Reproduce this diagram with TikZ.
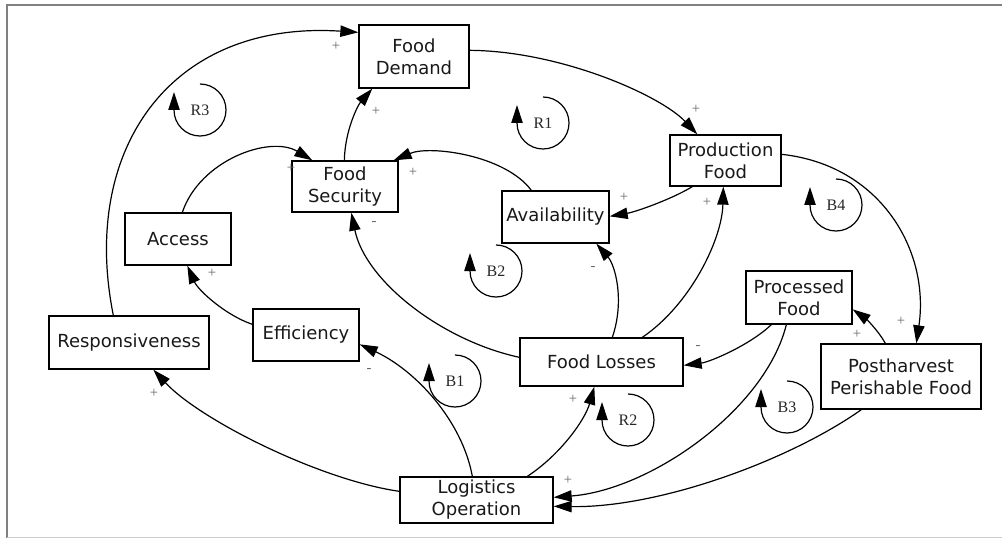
\documentclass[tikz,border=0pt]{standalone}
\usepackage{fontspec}
\newfontfamily\boxfont{DejaVu Sans}
\newfontfamily\labfont{Liberation Serif}
\usetikzlibrary{arrows.meta,calc}
\begin{document}
\begin{tikzpicture}[x=0.75pt,y=-0.75pt,
 var/.style={draw=black,line width=1pt,fill=white,font=\boxfont\fontsize{13.5}{16.5}\selectfont,align=center,inner sep=0pt,text=black!90},
 link/.style={line width=0.9pt,-{Triangle[length=13.5pt,width=8.5pt]}},
 sign/.style={font=\labfont\fontsize{11}{11}\selectfont,text=black!60,inner sep=0pt},
 loopname/.style={font=\labfont\fontsize{12}{12}\selectfont,inner sep=0pt,text=black!85},
 loopline/.style={line width=0.9pt,-{Triangle[length=13.5pt,width=8.5pt]}},
 frame/.style={draw=black!50,line width=1.5pt}]
\useasboundingbox (0,0) rectangle (1002,538);
\draw[frame] (6.5,538) -- (6.5,5.5) -- (1002,5.5);
\draw[draw=black!20,line width=1pt] (6.5,537.5) -- (1002,537.5);

% variables
\node[var,minimum width=82.5pt,minimum height=47.25pt] (fd) at (414,56.5) {Food\\Demand};
\node[var,minimum width=79.5pt,minimum height=38.25pt] (fs) at (345,186.5) {Food\\Security};
\node[var,minimum width=79.5pt,minimum height=39pt] (ac) at (178,239) {Access};
\node[var,minimum width=80.25pt,minimum height=39pt] (av) at (555.5,217) {Availability};
\node[var,minimum width=83.25pt,minimum height=38.25pt] (pf) at (725.5,160.5) {Production\\Food};
\node[var,minimum width=120pt,minimum height=39.75pt] (re) at (129,342.5) {Responsiveness};
\node[var,minimum width=79.5pt,minimum height=39pt] (ef) at (306,335) {Efficiency};
\node[var,minimum width=122.25pt,minimum height=36pt] (fl) at (601.5,362) {Food Losses};
\node[var,minimum width=114.75pt,minimum height=34.5pt] (lo) at (476.5,500) {Logistics\\Operation};
\node[var,minimum width=79.5pt,minimum height=39.75pt] (pr) at (799,297.5) {Processed\\Food};
\node[var,minimum width=120pt,minimum height=48.75pt] (ph) at (901,376.5) {Postharvest\\Perishable Food};

% connectors
\draw[link] ($(re.north west)+(65,0)$) .. controls (80,150) and (170,20) .. ($(fd.north west)+(0,8)$);
\draw[link] ($(fd.north east)+(0,26)$) .. controls (560,51) and (660,95) .. ($(pf.north west)+(28,0)$);
\draw[link] ($(fs.north west)+(53,0)$) .. controls (345,130) and (358,105) .. ($(fd.south west)+(14,0)$);
\draw[link] ($(ac.north west)+(58,0)$) .. controls (200,160) and (270,135) .. ($(fs.north west)+(21,0)$);
\draw[link] ($(av.north west)+(30,0)$) .. controls (505,155) and (430,145) .. ($(fs.north east)+(-5,0)$);
\draw[link] ($(pf.south west)+(23,0)$) .. controls (670,200) and (635,212) .. ($(av.north east)+(0,26)$);
\draw[link] ($(fl.north west)+(0,20)$) .. controls (440,340) and (365,280) .. ($(fs.south west)+(60,0)$);
\draw[link] ($(fl.north west)+(93,0)$) .. controls (625,300) and (615,265) .. ($(av.south west)+(95,0)$);
\draw[link] ($(fl.north west)+(123,0)$) .. controls (690,305) and (722,240) .. ($(pf.south west)+(54,0)$);
\draw[link] ($(pf.north east)+(0,20)$) .. controls (880,165) and (930,250) .. ($(ph.north west)+(96,0)$);
\draw[link] ($(ph.north west)+(65,0)$) .. controls (878,330) and (865,318) .. ($(pr.north east)+(0,39)$);
\draw[link] ($(pr.south west)+(26,0)$) .. controls (750,345) and (710,362) .. ($(fl.north east)+(0,28)$);
\draw[link] ($(pr.south west)+(41,0)$) .. controls (765,410) and (650,490) .. ($(lo.north east)+(0,21)$);
\draw[link] ($(ph.south west)+(41,0)$) .. controls (790,460) and (660,508) .. ($(lo.north east)+(0,30)$);
\draw[link] ($(lo.north west)+(128,0)$) .. controls (560,455) and (585,420) .. ($(fl.south west)+(75,0)$);
\draw[link] ($(lo.north west)+(73,0)$) .. controls (462,420) and (415,370) .. ($(ef.north east)+(0,36)$);
\draw[link] ($(lo.north west)+(0,15)$) .. controls (320,480) and (200,420) .. ($(re.south west)+(105,0)$);
\draw[link] ($(ef.north west)+(0,16)$) .. controls (225,315) and (198,290) .. ($(ac.south west)+(63,0)$);

% polarity signs
\node[sign] (s1) at (336,46) {+};
\node[sign] (s2) at (696,109) {+};
\node[sign] (s3) at (376,111) {+};
\node[sign] (s4) at (291,168) {+};
\node[sign] (s5) at (413,172) {+};
\node[sign] (s6) at (624,197) {+};
\node[sign] (s7) at (374,223) {-};
\node[sign] (s8) at (593,268) {-};
\node[sign] (s9) at (707,202) {+};
\node[sign] (s10) at (901,321) {+};
\node[sign] (s11) at (857,334) {+};
\node[sign] (s12) at (698,347) {-};
\node[sign] (s13) at (568,480) {+};
\node[sign] (s14) at (573,399) {+};
\node[sign] (s15) at (369,370) {-};
\node[sign] (s16) at (154,393) {+};
\node[sign] (s17) at (212,273) {+};

% loops
\foreach \nm/\lab/\cx/\cy in {r3/R3/200/110, r1/R1/543/123, b4/B4/836/205, b2/B2/496/271, b1/B1/455/381, r2/R2/628/420, b3/B3/787/407}{
  \node[loopname] (\nm) at (\cx,\cy) {\lab};
  \draw[loopline] ($(\nm.center)+(0,-26)$) arc[start angle=90,end angle=-180,radius=19.5pt] -- ++(0,-18);
}
\end{tikzpicture}
\end{document}
